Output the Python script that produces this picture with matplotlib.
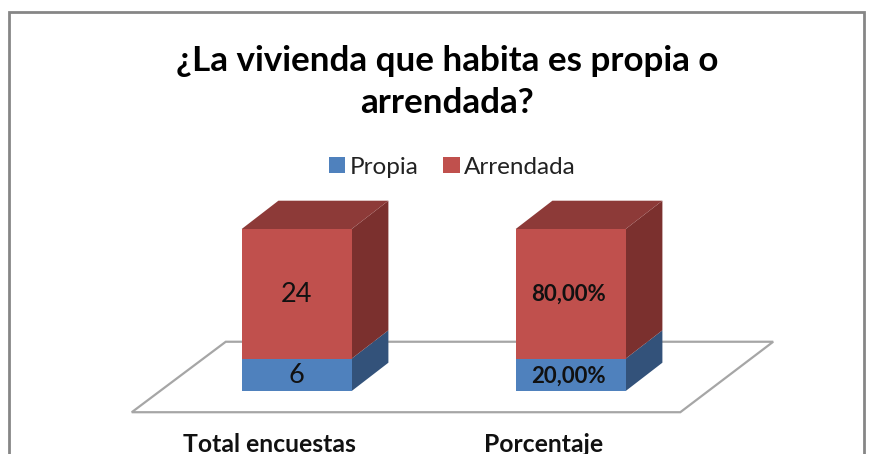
import numpy as np
import matplotlib
matplotlib.use('Agg')
import matplotlib.pyplot as plt
from matplotlib.patches import Polygon, Rectangle

plt.rcParams['font.family'] = ['Lato', 'DejaVu Sans']

categories = ['Total encuestas', 'Porcentaje']
propia = [6, 0.20]
arrendada = [24, 0.80]
propia_labels = ['6', '20,00%']
arrendada_labels = ['24', '80,00%']
label_bold = [False, True]
title = '¿La vivienda que habita es propia o\narrendada?'

blue = '#4f81bd'
blue_dark = '#33527a'
red = '#c0504d'
red_top = '#8d3a38'
red_side = '#7b302e'

W, H = 874, 454
fig = plt.figure(figsize=(W / 100, H / 100), dpi=100)
ax = fig.add_axes([0, 0, 1, 1])
# one category = 274 px, full stack = 162 px, baseline at 391 px from the top
ax.set_xlim(-296.7 / 274, (W - 296.7) / 274)
ax.set_ylim((391 - H) / 162, 391 / 162)
ax.axis('off')

# chart frame, runs off the bottom of the image
fig.add_artist(Rectangle((9 / W, -0.05), 855 / W, 1.05 - 12.5 / H, transform=fig.transFigure,
                         fc='none', ec='#868686', lw=2))

# floor
floor = Polygon([(-0.602, -0.131), (1.4, -0.131), (1.739, 0.304), (-0.259, 0.304)],
                closed=True, fc='white', ec='#a6a6a6', lw=1.6, zorder=1)
ax.add_patch(floor)

x = np.arange(len(categories))
totals = np.array(propia) + np.array(arrendada)
low = np.array(propia) / totals
high = np.array(arrendada) / totals
w = 110 / 274
dx = 36.7 / 274
dy = 28.3 / 162

b1 = ax.bar(x, low, w, color=blue, label='Propia', zorder=3)
b2 = ax.bar(x, high, w, bottom=low, color=red, label='Arrendada', zorder=3)

for i in x:
    r = i + w / 2
    l = i - w / 2
    ax.add_patch(Polygon([(r, 0), (r + dx, dy), (r + dx, low[i] + dy), (r, low[i])], fc=blue_dark, zorder=2))
    ax.add_patch(Polygon([(r, low[i]), (r + dx, low[i] + dy), (r + dx, 1 + dy), (r, 1)], fc=red_side, zorder=2))
    ax.add_patch(Polygon([(l, 1), (r, 1), (r + dx, 1 + dy), (l + dx, 1 + dy)], fc=red_top, zorder=2))
    weight = 'bold' if label_bold[i] else 'normal'
    size = 16 if label_bold[i] else 19.5
    shift = -0.009 if label_bold[i] else 0
    ax.text(i + shift, low[i] / 2 - 0.006, propia_labels[i], ha='center', va='center', fontsize=size,
            fontweight=weight, color='#111111', zorder=4)
    ax.text(i + shift, low[i] + high[i] / 2 - 0.004, arrendada_labels[i], ha='center', va='center', fontsize=size,
            fontweight=weight, color='#111111', zorder=4)
    ax.text(i - 0.1, (391 - 445) / 162, categories[i], ha='center', va='center', fontsize=17.8,
            fontweight='bold', color='#111111')

fig.text(447 / W, 1 - 82 / H, title, ha='center', va='center', fontsize=25.2, fontweight='bold',
         color='black', linespacing=1.4)

fig.legend(handles=[b1, b2], loc='center', bbox_to_anchor=(452.5 / W, 1 - 167 / H), ncol=2, frameon=False,
           fontsize=17.5, handlelength=0.67, handleheight=0.6, handletextpad=0.2, columnspacing=1.0,
           labelcolor='#222222')

fig.savefig('out.png', dpi=100)
